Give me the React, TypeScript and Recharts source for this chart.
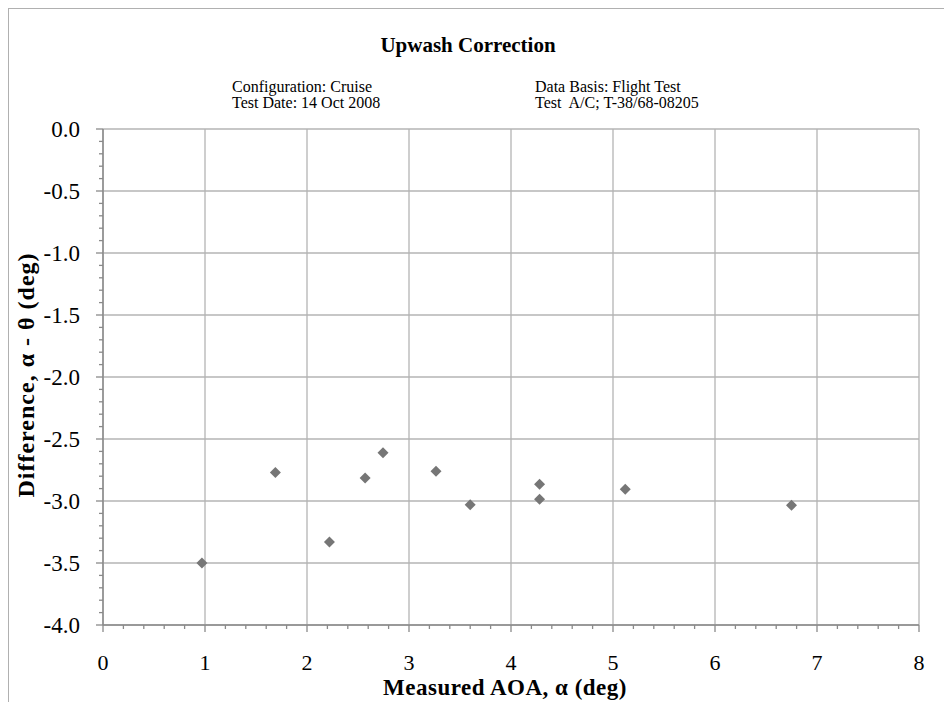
import { ScatterChart, Scatter, XAxis, YAxis, CartesianGrid } from 'recharts';

// measured AOA (deg) vs difference alpha - theta (deg)
const aoa = [0.97, 1.69, 2.22, 2.57, 2.745, 3.265, 3.6, 4.28, 4.28, 5.12, 6.75];
const diff = [-3.5, -2.77, -3.33, -2.815, -2.61, -2.76, -3.03, -2.865, -2.985, -2.905, -3.035];

const xMajor = [0, 1, 2, 3, 4, 5, 6, 7, 8];
const yMajor = [0, -0.5, -1, -1.5, -2, -2.5, -3, -3.5, -4];
// minor ticks: every 0.2 on x, every 0.1 on y
const xMinor = Array.from({ length: 41 }, (_, i) => Math.round(i * 2) / 10);
const yMinor = Array.from({ length: 41 }, (_, i) => -i / 10);

const data = aoa.map((x, i) => ({ x, y: diff[i] }));

const W = 943;
const H = 693;
const FONT = '"Liberation Serif", "Times New Roman", serif';
const AXIS = '#8a8a8a';
const GRID = '#b4b4b4';

const isInt = (v: number, step: number) => Math.abs(v / step - Math.round(v / step)) < 1e-6;

const XTick = ({ x, y, payload }: any) => {
  const major = isInt(payload.value, 1);
  return (
    <g>
      <line x1={x} y1={y} x2={x} y2={y + (major ? 7 : 4)} stroke={AXIS} strokeWidth={1.3} />
      {major && (
        <text x={x} y={y + 45} textAnchor="middle" fontSize={22} fontFamily={FONT} fill="#000">
          {payload.value}
        </text>
      )}
    </g>
  );
};

const YTick = ({ x, y, payload }: any) => {
  const major = isInt(payload.value, 0.5);
  return (
    <g>
      <line x1={x} y1={y} x2={x - (major ? 7 : 4)} y2={y} stroke={AXIS} strokeWidth={1.3} />
      {major && (
        <text x={x - 23} y={y + 8} textAnchor="end" fontSize={23} fontFamily={FONT} fill="#000">
          {payload.value.toFixed(1)}
        </text>
      )}
    </g>
  );
};

const Diamond = ({ cx, cy }: any) => (
  <polygon points={`${cx},${cy - 5.5} ${cx + 5.5},${cy} ${cx},${cy + 5.5} ${cx - 5.5},${cy}`} fill="#767676" />
);

export default function App() {
  return (
    <div
      style={{
        position: 'relative',
        width: W,
        height: H,
        borderTop: '1.5px solid #b0b0b0',
        borderLeft: '1.5px solid #b0b0b0',
        background: '#fff',
      }}
    >
      <ScatterChart width={W} height={H} margin={{ top: 120, right: 33, bottom: 0, left: 0 }}>
        <CartesianGrid
          stroke={GRID}
          strokeWidth={1.3}
          horizontalValues={yMajor}
          verticalValues={xMajor}
        />
        <XAxis
          type="number"
          dataKey="x"
          domain={[0, 8]}
          ticks={xMinor}
          interval={0}
          height={77}
          tickSize={0}
          tickMargin={0}
          tickLine={false}
          axisLine={{ stroke: AXIS, strokeWidth: 1.5 }}
          tick={<XTick />}
        />
        <YAxis
          type="number"
          dataKey="y"
          domain={[-4, 0]}
          ticks={yMinor}
          interval={0}
          width={94}
          tickSize={0}
          tickMargin={0}
          tickLine={false}
          axisLine={{ stroke: AXIS, strokeWidth: 1.5 }}
          tick={<YTick />}
        />
        <Scatter data={data} shape={<Diamond />} isAnimationActive={false} />
      </ScatterChart>
      <svg width={W} height={H} style={{ position: 'absolute', left: 0, top: 0, pointerEvents: 'none' }}>
        <text x={459} y={43} textAnchor="middle" fontSize={21} fontWeight="bold" fontFamily={FONT}>
          Upwash Correction
        </text>
        <text x={223} y={83} fontSize={16} fontFamily={FONT}>Configuration: Cruise</text>
        <text x={223} y={99} fontSize={16} fontFamily={FONT}>Test Date: 14 Oct 2008</text>
        <text x={526} y={83} fontSize={16} fontFamily={FONT}>Data Basis: Flight Test</text>
        <text x={526} y={99} fontSize={16} fontFamily={FONT} style={{ whiteSpace: 'pre' }}>Test  A/C; T-38/68-08205</text>
        <text x={496} y={686} textAnchor="middle" fontSize={23} fontWeight="bold" fontFamily={FONT} letterSpacing={0.5}>
          Measured AOA, α (deg)
        </text>
        <text
          transform="translate(25, 366) rotate(-90)"
          textAnchor="middle"
          fontSize={24}
          fontWeight="bold"
          fontFamily={FONT}
          letterSpacing={1}
        >
          Difference, α - θ (deg)
        </text>
      </svg>
    </div>
  );
}
